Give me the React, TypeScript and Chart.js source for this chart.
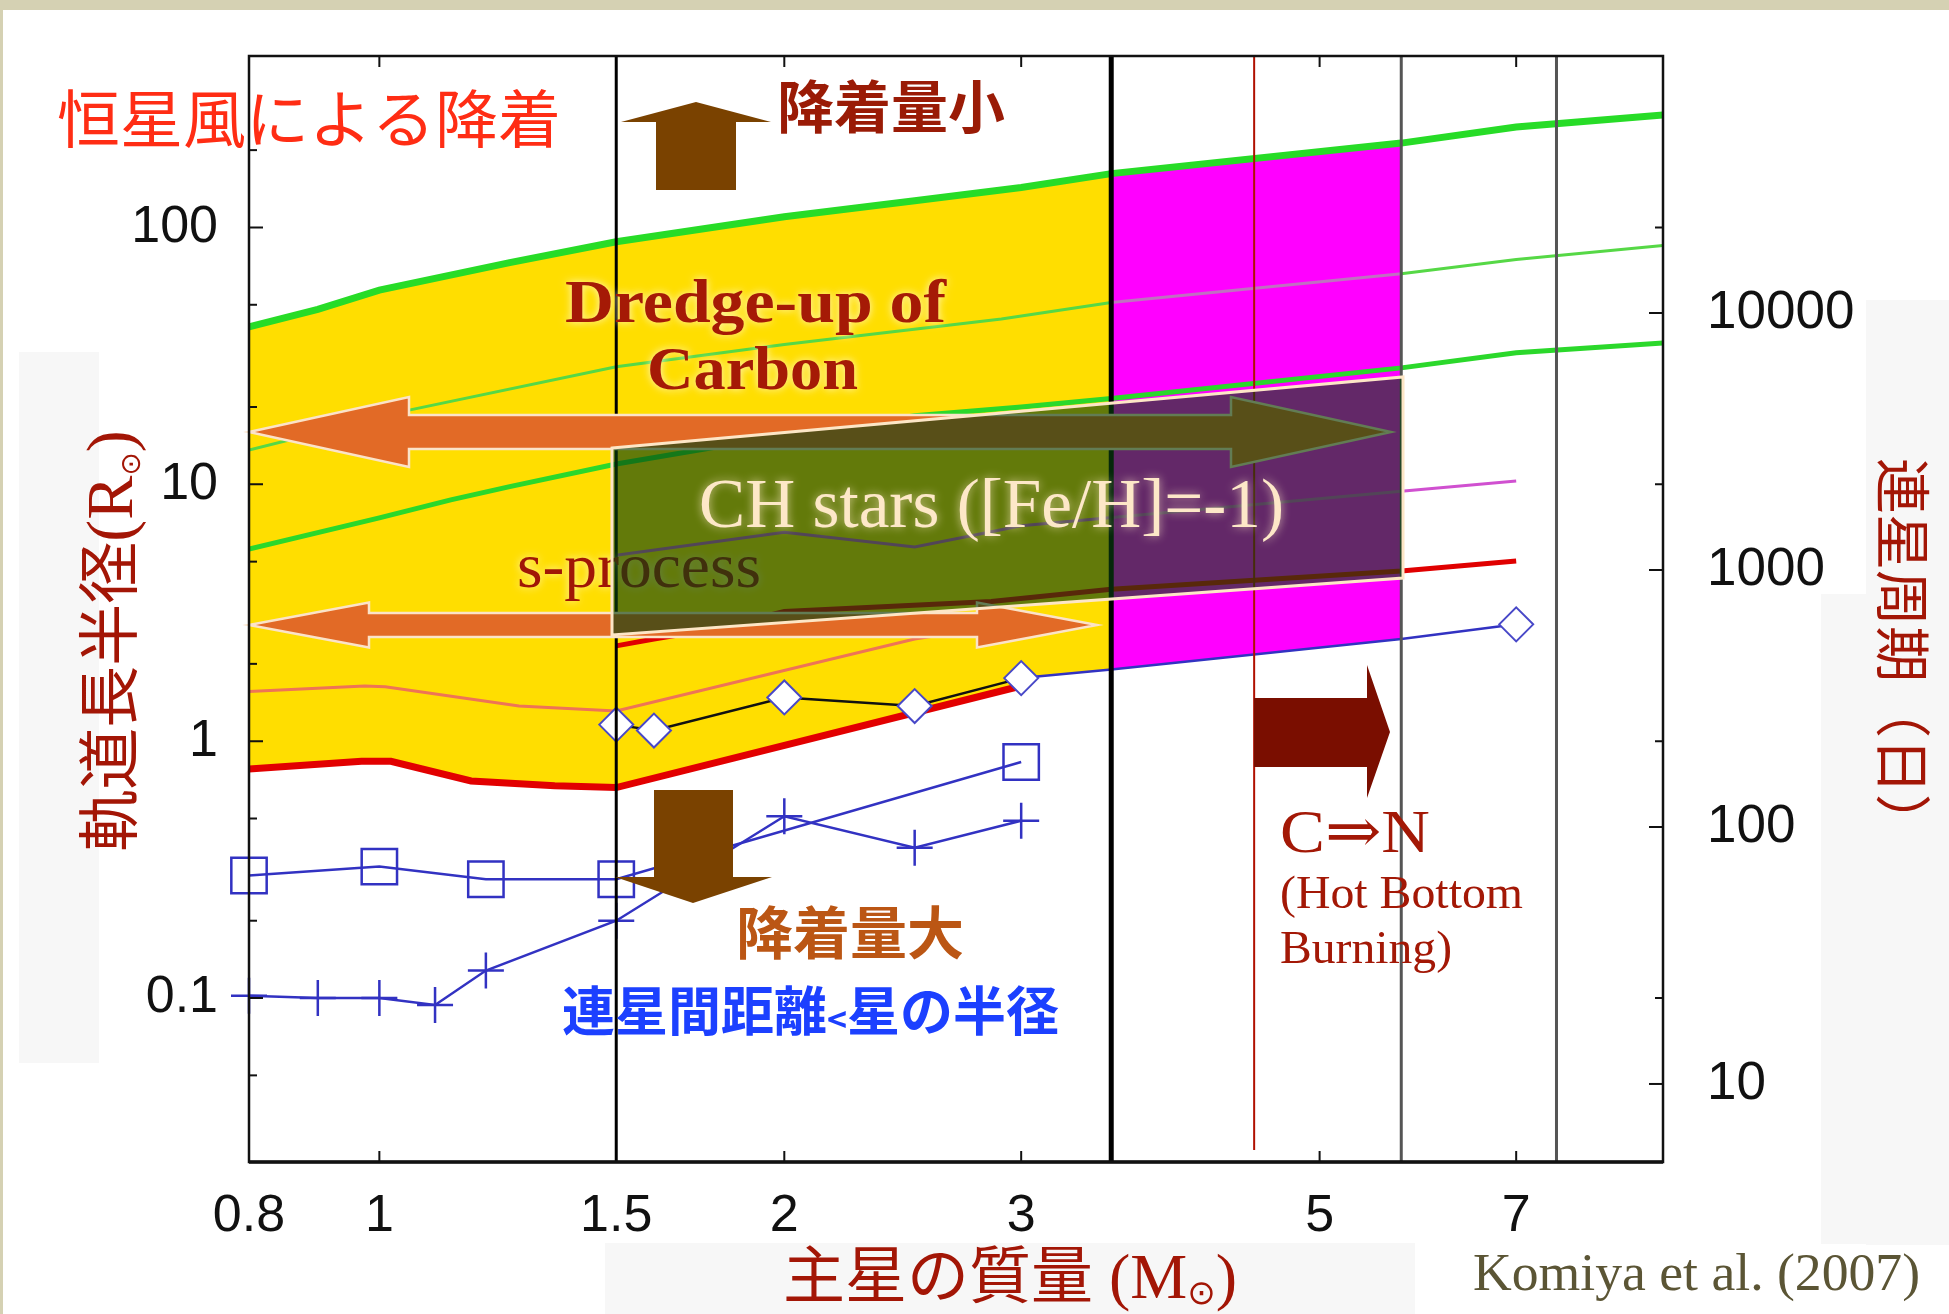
import React, { useEffect, useRef } from 'react';
import { Chart, registerables } from 'chart.js';

Chart.register(...registerables);

const W = 1949;
const H = 1314;
const PLOT = { left: 249, right: 1663, top: 56, bottom: 1162 };

// ---- axes ----
const massTicks = [0.8, 1, 1.5, 2, 3, 5, 7];
const sepTicks = [0.1, 1, 10, 100];
const sepMinorTicks = [0.05, 0.2, 0.5, 2, 5, 20, 50, 200];
const periodTicks = [10, 100, 1000, 10000];
const innerMassTicks = [1, 2, 3, 5, 7];

// ---- curves: primary mass (Msun) vs orbital separation (Rsun) ----
const topGreenMass = [0.8, 0.9, 1.0, 1.25, 1.5, 2, 2.5, 3, 3.5, 5.75, 7, 9];
const topGreenSep = [41, 48, 57, 73, 88, 110, 127, 143, 162, 213, 246, 274];
const midGreenMass = [0.8, 1.05, 1.5, 2, 2.9, 3.5, 5.75, 7, 9];
const midGreenSep = [13.6, 19.4, 28.7, 35, 44, 51, 66, 75, 85];
const lowGreenMass = [0.8, 1.0, 1.13, 1.25, 1.5, 2, 2.5, 3, 3.5, 5.75, 7, 9];
const lowGreenSep = [5.6, 7.4, 8.7, 9.8, 12, 15.5, 18.5, 20, 21.6, 28.4, 32.5, 35.5];
const redLowMass = [0.8, 0.97, 1.02, 1.17, 1.35, 1.5, 3];
const redLowSep = [0.78, 0.835, 0.835, 0.7, 0.67, 0.66, 1.64];
const redHighMass = [1.5, 1.6, 1.75, 2.0, 2.85, 3.5, 5.75, 7];
const redHighSep = [2.35, 2.5, 2.7, 3.2, 3.5, 3.9, 4.6, 5.03];
const pinkMass = [0.8, 0.975, 1.01, 1.27, 1.5, 2.5, 3];
const pinkSep = [1.56, 1.64, 1.63, 1.37, 1.31, 2.5, 2.9];
const violetMass = [1.5, 2.0, 2.5, 3.0, 5.75, 7];
const violetSep = [5.3, 6.5, 5.7, 6.9, 9.4, 10.3];
const diamondMass = [1.5, 1.6, 2, 2.5, 3];
const diamondSep = [1.16, 1.1, 1.48, 1.37, 1.76];
const blueTailMass = [3, 3.5, 5.75, 7];
const blueTailSep = [1.76, 1.9, 2.5, 2.85];
const squareMass = [0.8, 1.0, 1.2, 1.5, 3];
const squareSep = [0.3, 0.325, 0.29, 0.29, 0.83];
const plusMass = [0.8, 0.9, 1.0, 1.1, 1.2, 1.5, 2, 2.5, 3];
const plusSep = [0.102, 0.1, 0.1, 0.094, 0.128, 0.2, 0.51, 0.385, 0.49];

// vertical boundaries (mass)
const boundaryMass = [1.5, 3.5, 4.47, 5.75, 7.5];
const boundaryColor = ['#000000', '#000000', '#b01000', '#555555', '#555555'];
const boundaryWidth = [3, 5, 2, 3, 3];

const pts = (xs: number[], ys: number[]) => xs.map((x, i) => ({ x, y: ys[i] }));

const yellowBottom = [
  ...pts(redLowMass, redLowSep),
  ...pts(blueTailMass, blueTailSep).filter((p) => p.x >= 3 && p.x <= 3.5),
];
const magentaBottom = pts(blueTailMass, blueTailSep).filter((p) => p.x >= 3.5 && p.x <= 5.75);

const CJK = '"Noto Sans CJK JP", "Noto Sans CJK SC", sans-serif';
const SERIF = '"Liberation Serif", "DejaVu Serif", serif';
const SANS = '"Liberation Sans", Arial, sans-serif';

type Run = { t: string; f: string; dy?: number };

function runsWidth(ctx: CanvasRenderingContext2D, runs: Run[]) {
  let w = 0;
  for (const r of runs) {
    ctx.font = r.f;
    w += ctx.measureText(r.t).width;
  }
  return w;
}
function drawRuns(ctx: CanvasRenderingContext2D, runs: Run[], x: number, y: number) {
  let cx = x;
  for (const r of runs) {
    ctx.font = r.f;
    ctx.fillText(r.t, cx, y + (r.dy || 0));
    cx += ctx.measureText(r.t).width;
  }
}
function fitText(ctx: CanvasRenderingContext2D, text: string, x: number, y: number, width: number) {
  const m = ctx.measureText(text).width;
  ctx.save();
  ctx.translate(x, y);
  ctx.scale(width / m, 1);
  ctx.textAlign = 'left';
  ctx.fillText(text, 0, 0);
  ctx.restore();
}
function poly(ctx: CanvasRenderingContext2D, p: number[][]) {
  ctx.beginPath();
  p.forEach(([x, y], i) => (i ? ctx.lineTo(x, y) : ctx.moveTo(x, y)));
  ctx.closePath();
}
function doubleArrow(ctx: CanvasRenderingContext2D, y: number, x1: number, x2: number, head: number, hh: number, sh: number) {
  poly(ctx, [
    [x1, y], [x1 + head, y - hh], [x1 + head, y - sh], [x2 - head, y - sh], [x2 - head, y - hh],
    [x2, y], [x2 - head, y + hh], [x2 - head, y + sh], [x1 + head, y + sh], [x1 + head, y + hh],
  ]);
  ctx.fillStyle = '#e26a26';
  ctx.fill();
  ctx.strokeStyle = '#fbe3c8';
  ctx.lineWidth = 2.5;
  ctx.stroke();
}

const decorPlugin = {
  id: 'decor',
  beforeDraw(chart: any) {
    const ctx: CanvasRenderingContext2D = chart.ctx;
    ctx.save();
    ctx.fillStyle = '#ffffff';
    ctx.fillRect(0, 0, W, H);
    ctx.fillStyle = '#d5d1b3';
    ctx.fillRect(0, 0, W, 10);
    ctx.fillRect(0, 0, 3, H);
    ctx.fillStyle = '#f7f7f7';
    ctx.fillRect(19, 352, 80, 711);
    ctx.fillRect(605, 1243, 810, 71);
    ctx.fillRect(1866, 300, 83, 945);
    ctx.fillRect(1821, 594, 45, 650);
    ctx.restore();
  },
  afterDatasetsDraw(chart: any) {
    const ctx: CanvasRenderingContext2D = chart.ctx;
    const xs = chart.scales.x;
    const ys = chart.scales.y;
    const y2 = chart.scales.y2;
    ctx.save();

    // vertical boundary lines
    boundaryMass.forEach((m, i) => {
      const px = xs.getPixelForValue(m);
      ctx.beginPath();
      ctx.moveTo(px, PLOT.top);
      ctx.lineTo(px, i === 2 ? 1150 : PLOT.bottom);
      ctx.strokeStyle = boundaryColor[i];
      ctx.lineWidth = boundaryWidth[i];
      ctx.stroke();
    });

    // orange double arrows
    doubleArrow(ctx, 432, 249, 1391, 160, 35, 17);
    doubleArrow(ctx, 625, 249, 1097, 120, 22.5, 12);

    // s-process (under the CH box)
    ctx.textBaseline = 'alphabetic';
    ctx.font = `64px ${SERIF}`;
    ctx.fillStyle = '#a01606';
    ctx.shadowColor = 'rgba(255,250,200,0.9)';
    ctx.shadowBlur = 8;
    fitText(ctx, 's-process', 517, 587, 244);
    ctx.shadowBlur = 0;

    // CH stars box
    poly(ctx, [[612, 448], [1403, 377], [1403, 578], [612, 635]]);
    ctx.fillStyle = 'rgba(8,64,16,0.63)';
    ctx.fill();
    ctx.strokeStyle = '#fde6c6';
    ctx.lineWidth = 3;
    ctx.stroke();

    ctx.font = `70px ${SERIF}`;
    ctx.fillStyle = '#fde8c8';
    ctx.shadowColor = 'rgba(255,235,200,0.7)';
    ctx.shadowBlur = 10;
    fitText(ctx, 'CH stars ([Fe/H]=-1)', 699, 527, 585);

    // Dredge-up of Carbon
    ctx.font = `bold 62px ${SERIF}`;
    ctx.fillStyle = '#a51a06';
    ctx.shadowColor = 'rgba(255,250,210,0.95)';
    ctx.shadowBlur = 8;
    fitText(ctx, 'Dredge-up of', 565, 322, 381);
    fitText(ctx, 'Carbon', 647, 389, 211);
    ctx.shadowBlur = 0;

    // brown arrows
    ctx.fillStyle = '#7a4200';
    poly(ctx, [[696, 102], [771, 122], [736, 122], [736, 190], [656, 190], [656, 122], [621, 122]]);
    ctx.fill();
    poly(ctx, [[654, 790], [733, 790], [733, 877], [772, 877], [693, 903], [615, 877], [654, 877]]);
    ctx.fill();
    // dark red arrow
    ctx.fillStyle = '#7a0e00';
    poly(ctx, [[1254, 698], [1367, 698], [1367, 665], [1390, 732], [1367, 798], [1367, 767], [1254, 767]]);
    ctx.fill();

    // frame
    ctx.strokeStyle = '#111';
    ctx.lineWidth = 2.5;
    ctx.strokeRect(PLOT.left, PLOT.top, PLOT.right - PLOT.left, PLOT.bottom - PLOT.top);
    ctx.lineWidth = 3.5;
    ctx.beginPath();
    ctx.moveTo(PLOT.left, PLOT.bottom);
    ctx.lineTo(PLOT.right, PLOT.bottom);
    ctx.stroke();
    ctx.lineWidth = 2;
    innerMassTicks.forEach((m) => {
      const px = xs.getPixelForValue(m);
      ctx.beginPath();
      ctx.moveTo(px, PLOT.top);
      ctx.lineTo(px, PLOT.top + 11);
      ctx.moveTo(px, PLOT.bottom);
      ctx.lineTo(px, PLOT.bottom - 11);
      ctx.stroke();
    });
    sepTicks.forEach((v) => {
      const py = ys.getPixelForValue(v);
      ctx.beginPath();
      ctx.moveTo(PLOT.left, py);
      ctx.lineTo(PLOT.left + 14, py);
      ctx.moveTo(PLOT.right, py);
      ctx.lineTo(PLOT.right - 8, py);
      ctx.stroke();
    });
    sepMinorTicks.forEach((v) => {
      const py = ys.getPixelForValue(v);
      ctx.beginPath();
      ctx.moveTo(PLOT.left, py);
      ctx.lineTo(PLOT.left + 8, py);
      ctx.stroke();
    });
    periodTicks.forEach((v) => {
      const py = y2.getPixelForValue(v);
      ctx.beginPath();
      ctx.moveTo(PLOT.right, py);
      ctx.lineTo(PLOT.right - 14, py);
      ctx.stroke();
    });

    // Japanese annotations
    ctx.textBaseline = 'middle';
    ctx.textAlign = 'left';
    ctx.font = `63px ${CJK}`;
    ctx.fillStyle = '#ff2d14';
    ctx.fillText('恒星風による降着', 57, 118);
    ctx.font = `bold 57px ${CJK}`;
    ctx.fillStyle = '#9a1b06';
    ctx.fillText('降着量小', 777, 106);
    ctx.fillStyle = '#bb5614';
    ctx.fillText('降着量大', 736, 932);
    ctx.fillStyle = '#1c40ff';
    drawRuns(ctx, [
      { t: '連星間距離', f: `bold 53px ${CJK}` },
      { t: '<', f: `bold 34px ${CJK}`, dy: 8 },
      { t: '星の半径', f: `bold 53px ${CJK}` },
    ], 562, 1011);

    // C=>N
    ctx.textBaseline = 'alphabetic';
    ctx.fillStyle = '#a31806';
    ctx.font = `62px ${SERIF}`;
    fitText(ctx, 'C\u21D2N', 1280, 852, 150);
    ctx.font = `46px ${SERIF}`;
    fitText(ctx, '(Hot Bottom', 1280, 908, 243);
    fitText(ctx, 'Burning)', 1280, 963, 172);

    // Komiya et al.
    ctx.fillStyle = '#5b5535';
    ctx.font = `52px ${SERIF}`;
    fitText(ctx, 'Komiya et al. (2007)', 1473, 1290, 447);

    // axis titles
    ctx.fillStyle = '#a31606';
    drawRuns(ctx, [
      { t: '主星の質量', f: `62px ${CJK}` },
      { t: ' (M', f: `64px ${SERIF}` },
      { t: '\u2299', f: `34px "DejaVu Sans"`, dy: 6 },
      { t: ')', f: `64px ${SERIF}` },
    ], 783, 1298);

    const leftRuns: Run[] = [
      { t: '軌道長半径', f: `62px ${CJK}` },
      { t: '(R', f: `66px ${SERIF}` },
      { t: '\u2299', f: `28px "DejaVu Sans"`, dy: 8 },
      { t: ')', f: `66px ${SERIF}` },
    ];
    ctx.save();
    ctx.translate(132, 641);
    ctx.rotate(-Math.PI / 2);
    drawRuns(ctx, leftRuns, -runsWidth(ctx, leftRuns) / 2, 0);
    ctx.restore();

    const rightRuns: Run[] = [{ t: '連星周期（日）', f: `56px ${CJK}` }];
    ctx.save();
    ctx.translate(1882, 654);
    ctx.rotate(Math.PI / 2);
    drawRuns(ctx, rightRuns, -runsWidth(ctx, rightRuns) / 2, 0);
    ctx.restore();

    ctx.restore();
  },
};

const tickFont = { family: SANS, size: 52 };
const noPad = (s: any) => {
  s.paddingTop = 0;
  s.paddingBottom = 0;
  s.paddingLeft = 0;
  s.paddingRight = 0;
};

export default function App() {
  const ref = useRef<HTMLCanvasElement>(null);
  useEffect(() => {
    const canvas = ref.current;
    if (!canvas) return;
    const blue = '#3232c2';
    const chart = new Chart(canvas, {
      type: 'line',
      data: {
        datasets: [
          { data: pts(topGreenMass, topGreenSep), borderColor: '#27dc27', borderWidth: 7, pointRadius: 0, order: 20 },
          {
            data: pts(midGreenMass, midGreenSep), borderColor: '#56d846', borderWidth: 3, pointRadius: 0, order: 20,
            segment: { borderColor: (c: any) => (c.p0.parsed.x >= 3.5 && c.p1.parsed.x <= 5.75 ? '#c070c0' : '#56d846') },
          },
          { data: pts(lowGreenMass, lowGreenSep), borderColor: '#2bd82b', borderWidth: 5, pointRadius: 0, order: 20 },
          { data: pts(redLowMass, redLowSep), borderColor: '#e20000', borderWidth: 7, pointRadius: 0, order: 16 },
          { data: pts(redHighMass, redHighSep), borderColor: '#e00000', borderWidth: 5, pointRadius: 0, order: 17 },
          { data: pts(pinkMass, pinkSep), borderColor: '#ee7456', borderWidth: 3, pointRadius: 0, order: 18 },
          { data: pts(violetMass, violetSep), borderColor: '#d050d0', borderWidth: 3, pointRadius: 0, order: 19 },
          {
            data: pts(diamondMass, diamondSep), borderColor: '#111', borderWidth: 2.5, pointStyle: 'rectRot', pointRadius: 17,
            pointBorderColor: '#4848c8', pointBackgroundColor: '#ffffff', pointBorderWidth: 2, order: 14, clip: false,
          },
          {
            data: pts(blueTailMass, blueTailSep), borderColor: blue, borderWidth: 2.5, pointStyle: 'rectRot',
            pointRadius: blueTailMass.map((m) => (m === 7 ? 17 : 0)), pointBorderColor: '#4848c8',
            pointBackgroundColor: '#ffffff', pointBorderWidth: 2, order: 15, clip: false,
          },
          {
            data: pts(squareMass, squareSep), borderColor: blue, borderWidth: 2.5, pointStyle: 'rect', pointRadius: 25,
            pointBorderColor: blue, pointBackgroundColor: 'rgba(0,0,0,0)', pointBorderWidth: 2.5, order: 13, clip: false,
          },
          {
            data: pts(plusMass, plusSep), borderColor: blue, borderWidth: 2.5, pointStyle: 'cross', pointRadius: 18,
            pointBorderColor: blue, pointBorderWidth: 2.5, order: 12, clip: false,
          },
          { data: yellowBottom, borderWidth: 0, pointRadius: 0, fill: 0, backgroundColor: '#ffde00', order: 100 },
          { data: magentaBottom, borderWidth: 0, pointRadius: 0, fill: 0, backgroundColor: '#ff00ff', order: 99 },
        ] as any,
      },
      options: {
        responsive: false,
        animation: false,
        devicePixelRatio: 1,
        events: [],
        layout: { padding: { top: PLOT.top, left: 0, right: 0, bottom: 0 } },
        plugins: { legend: { display: false }, tooltip: { enabled: false }, title: { display: false } },
        scales: {
          x: {
            type: 'logarithmic', position: 'bottom', min: 0.8, max: 9,
            afterBuildTicks: (s: any) => { s.ticks = massTicks.map((value) => ({ value })); },
            afterFit: (s: any) => { s.height = H - PLOT.bottom; noPad(s); },
            grid: { display: false, drawTicks: false, tickLength: 0 },
            border: { display: false },
            ticks: { font: tickFont, color: '#111', padding: 23, maxRotation: 0, autoSkip: false, callback: (v: any) => String(v) },
          },
          y: {
            type: 'logarithmic', position: 'left', min: 0.023, max: 465,
            afterBuildTicks: (s: any) => { s.ticks = sepTicks.map((value) => ({ value })); },
            afterFit: (s: any) => { s.width = PLOT.left; noPad(s); },
            grid: { display: false, drawTicks: false, tickLength: 0 },
            border: { display: false },
            ticks: { font: tickFont, color: '#111', padding: 31, autoSkip: false, callback: (v: any) => String(v) },
          },
          y2: {
            type: 'logarithmic', position: 'right', min: 4.97, max: 100000,
            afterBuildTicks: (s: any) => { s.ticks = periodTicks.map((value) => ({ value })); },
            afterFit: (s: any) => { s.width = W - PLOT.right; noPad(s); },
            grid: { display: false, drawTicks: false, tickLength: 0 },
            border: { display: false },
            ticks: { font: { family: SANS, size: 53 }, color: '#111', padding: 44, autoSkip: false, callback: (v: any) => String(v) },
          },
        } as any,
      },
      plugins: [decorPlugin],
    });
    return () => chart.destroy();
  }, []);
  return (
    <div style={{ position: 'absolute', left: 0, top: 0, width: W, height: H, background: '#fff' }}>
      <canvas ref={ref} width={W} height={H} style={{ display: 'block', width: W, height: H }} />
    </div>
  );
}
